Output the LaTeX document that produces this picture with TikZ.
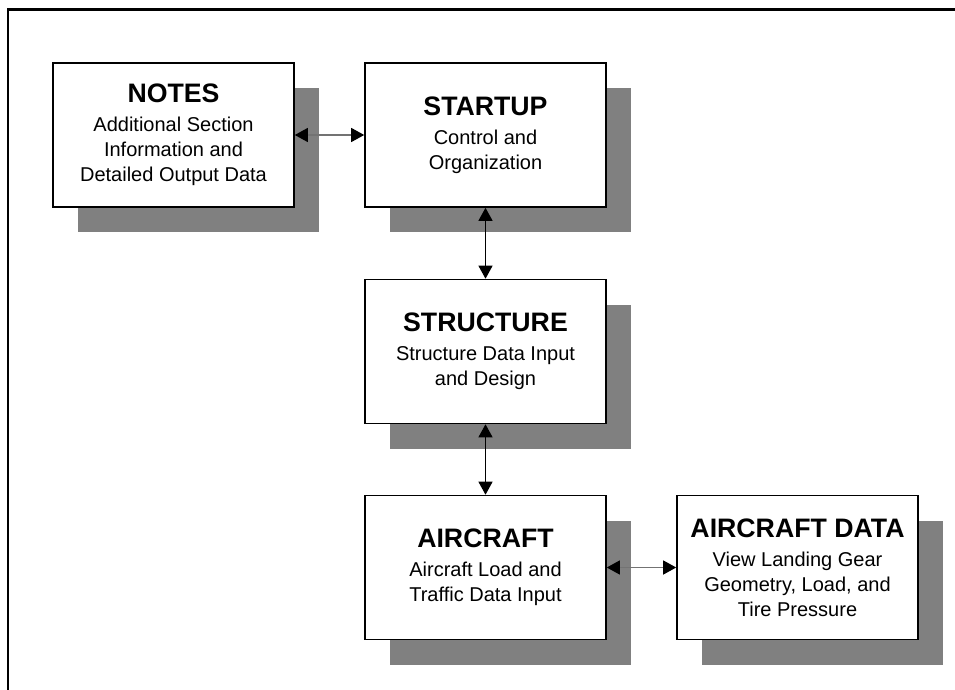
\documentclass[tikz,border=0pt]{standalone}
\usepackage{fontspec}
\setmainfont{Liberation Sans}
\usetikzlibrary{arrows.meta,shadows}

\tikzset{
  modbox/.style={draw, line width=1.6pt, rectangle, fill=white,
    minimum width=241pt, minimum height=144pt, align=center, inner sep=0pt,
    font=\fontsize{20}{25}\selectfont,
    drop shadow={shadow xshift=25pt, shadow yshift=-25pt, fill=black!50, opacity=1}},
  link/.style={{Triangle[length=13pt,width=14pt,color=black]}-{Triangle[length=13pt,width=14pt,color=black]}, line width=1.2pt}
}
\newcommand{\boxtitle}[1]{{\fontsize{26.7}{32}\selectfont\bfseries #1}\\[4pt]}

\begin{document}
\begin{tikzpicture}[x=1pt,y=-1pt]
\useasboundingbox (0,0) rectangle (955,690);
\draw[line width=2.2pt] (955,9.5) -| (8,690);

\node[modbox] (notes) at (173.5,135) {\boxtitle{NOTES}Additional Section\\Information and\\Detailed Output Data};
\node[modbox] (startup) at (485.5,135) {\boxtitle{STARTUP}Control and\\Organization};
\node[modbox] (structure) at (485.5,351.5) {\boxtitle{STRUCTURE}Structure Data Input\\and Design};
\node[modbox] (aircraft) at (485.5,567.5) {\boxtitle{AIRCRAFT}Aircraft Load and\\Traffic Data Input};
\node[modbox] (acdata) at (797.5,567.5) {\boxtitle{AIRCRAFT DATA}View Landing Gear\\Geometry, Load, and\\Tire Pressure};

\draw[link, draw=black!55] (notes) -- (startup);
\draw[link] (startup) -- (structure);
\draw[link] (structure) -- (aircraft);
\draw[link, draw=black!55] (aircraft) -- (acdata);
\end{tikzpicture}
\end{document}
